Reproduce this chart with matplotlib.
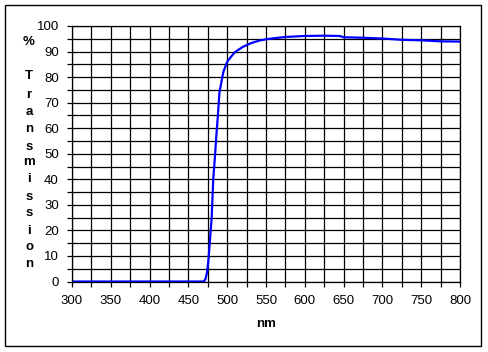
import matplotlib
matplotlib.use("Agg")
import matplotlib.pyplot as plt
from matplotlib.patches import Rectangle

wavelength = [300, 470, 472, 474, 476, 478, 480, 482, 484, 486, 488, 490, 495, 500,
              505, 510, 520, 530, 540, 550, 560, 575, 600, 625, 645, 650, 675, 700,
              725, 750, 775, 800]
transmission = [0, 0, 1, 3.5, 9, 17, 25, 40, 48, 57, 65, 74, 82, 86,
                88, 89.8, 91.8, 93.2, 94.2, 94.8, 95.2, 95.7, 96.1, 96.2, 96.1, 95.6, 95.4, 95.1,
                94.6, 94.4, 94.0, 93.9]
x_ticks = list(range(300, 801, 50))
y_ticks = list(range(0, 101, 10))
y_label = "%" + "Transmission"

plt.rcParams['font.family'] = ['Liberation Sans', 'DejaVu Sans']

fig = plt.figure(figsize=(4.88, 3.52), dpi=100)
fig.patch.set_facecolor('white')
fig.patches.append(Rectangle((5/488, 1-346/352), 476/488, 341/352, transform=fig.transFigure,
                             fill=False, edgecolor='black', linewidth=1.0))

ax = fig.add_axes([72/488, 1-281.5/352, 388/488, 255.5/352])
ax.plot(wavelength, transmission, color='#0000ff', linewidth=1.6, solid_joinstyle='miter')
ax.set_xlim(300, 800)
ax.set_ylim(0, 100)
ax.set_xticks(x_ticks)
ax.set_yticks(y_ticks)
ax.set_xticks(range(300, 801, 25), minor=True)
ax.set_yticks(range(0, 101, 5), minor=True)
ax.grid(True, which='both', color='black', linewidth=0.9)
ax.set_axisbelow(True)
for s in ax.spines.values():
    s.set_linewidth(0.9)
ax.tick_params(which='both', direction='out', length=3.5, width=0.9, labelsize=9.5, pad=6)
ax.tick_params(which='minor', labelbottom=False, labelleft=False)

# vertical stacked label
fig.text(29/488, 1-42/352, y_label[0], ha='center', va='center', fontsize=9.5, fontweight='bold')
ys = [76, 95, 112, 129, 147, 162, 179, 197, 213, 231, 247, 264]
for ch, yy in zip(y_label[1:], ys):
    fig.text(29/488, 1-yy/352, ch, ha='center', va='center', fontsize=9.5, fontweight='bold')
fig.text(266/488, 1-324/352, "nm", ha='center', va='center', fontsize=9.5, fontweight='bold')

fig.savefig("out.png", dpi=100)
